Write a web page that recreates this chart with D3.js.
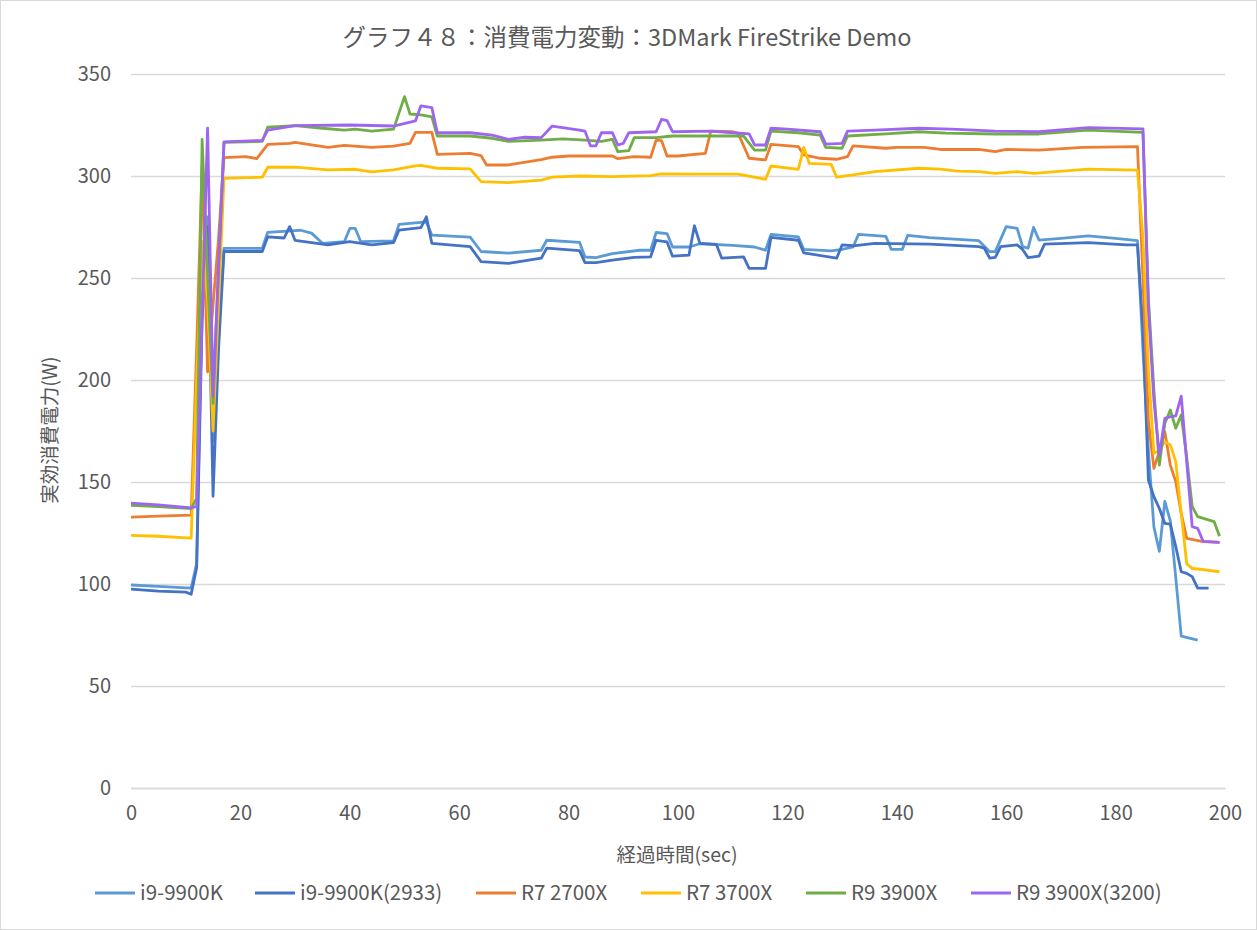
<!DOCTYPE html>
<html>
<head>
<meta charset="utf-8">
<script src="https://cdn.jsdelivr.net/npm/d3@7"></script>
<style>
body{margin:0;background:#fff;}
text{font-family:"Noto Sans CJK JP","Noto Sans",sans-serif;fill:#595959;}
</style>
</head>
<body>
<div id="chart"></div>
<script>
// 凡例の順番
const seriesNames=["i9-9900K","i9-9900K(2933)","R7 2700X","R7 3700X","R9 3900X","R9 3900X(3200)"];
const seriesColors=["#5b9bd5","#4472c4","#ed7d31","#ffc000","#70ad47","#9e66f0"];
const yTicks=[0,50,100,150,200,250,300,350];
const xTicks=[0,20,40,60,80,100,120,140,160,180,200];

// [経過時間(sec), 実効消費電力(W)]
const i9_9900K=[[0,99.5],[5,98.8],[11,98],[12,110],[13,240],[14,280],[15,170],[16,225],[17,264.5],[24,264.5],[25,272.4],[30,273.2],[31,273.4],[33,272],[35,267],[39,267.8],[40,274.3],[41,274.3],[42,267.8],[48,268.2],[49,276.3],[53,277.3],[54,277.5],[55,271],[62,270],[64,263],[69,262.2],[75,263.6],[76,268.5],[82,267.5],[83,260.3],[85,260],[88,262],[93,263.6],[95,263.6],[96,272.3],[98,271.8],[99,265.2],[102,265.2],[104,266.8],[110,266],[114,265.2],[116,263.6],[117,271.4],[122,270.2],[123,264],[128,263.3],[130,264],[132,265.2],[133,271.4],[138,270.4],[139,264],[141,264],[142,270.9],[146,269.8],[155,268.3],[157,262.9],[158,262.9],[160,275.2],[162,274.3],[163,265.4],[164,264.6],[165,274.8],[166,268.6],[170,269.4],[175,270.6],[180,269.4],[184,268.3],[185,215],[186,165],[187,128],[188,116],[189,140.5],[190,131],[191,103],[192,74.5],[195,72.5]];
const i9_9900K_2933=[[0,97.5],[5,96.5],[10,96],[11,95],[12,108],[13,230],[14,275],[15,143],[16,215],[17,263],[24,263],[25,270.2],[28,269.6],[29,275.2],[30,268.4],[36,266.2],[40,267.8],[44,266.2],[48,267.3],[49,273.5],[53,274.7],[54,280],[55,267],[62,265.4],[64,258],[69,257.2],[75,259.7],[76,264.6],[82,263.4],[83,257.5],[85,257.5],[88,258.8],[92,260.1],[95,260.4],[96,268.5],[98,267.7],[99,260.7],[102,261.2],[103,275.6],[104,267],[107,266.5],[108,259.7],[112,260.4],[113,254.7],[116,254.7],[117,269.9],[122,268.5],[123,262.3],[129,259.7],[130,266.2],[132,265.8],[136,267],[146,266.6],[155,265.4],[156,264.6],[157,259.7],[158,260.1],[159,265.4],[162,266.2],[163,264],[164,260],[166,260.7],[167,266.6],[175,267.3],[182,266.2],[184,266.2],[185,225],[186,151],[187,142.8],[188,137],[189,129.7],[190,129.4],[191,118.3],[192,106],[193,105.2],[194,103.6],[195,98],[197,98]];
const r7_2700X=[[0,132.8],[5,133.3],[11,133.8],[12,215],[13,305],[14,204],[15,237],[16,269],[17,309],[21,309.5],[23,308.5],[25,315.5],[29,316],[30,316.5],[36,314],[39,315],[44,314],[48,314.6],[51,316],[52,321.4],[55,321.4],[56,310.6],[62,311.1],[64,310],[65,305.4],[69,305.4],[75,308],[77,309.2],[80,309.8],[88,309.8],[89,308.5],[92,309.5],[95,309.2],[96,317.6],[97,317.3],[98,309.8],[100,309.8],[105,311.1],[106,322],[110,321.7],[111,320.9],[113,308.7],[116,307.9],[117,315.5],[122,314.4],[123,310.3],[126,308.7],[129,308.2],[131,309.5],[132,314.8],[138,313.6],[140,314],[145,314],[148,313],[155,313],[158,311.9],[160,313],[166,312.7],[174,314],[184,314.4],[185,250],[186,180],[187,156.7],[188,165],[189,174.7],[190,158.3],[191,150.2],[192,134.6],[193,122.4],[196,120.8],[199,120.4]];
const r7_3700X=[[0,123.8],[5,123.4],[11,122.5],[12,200],[13,268],[14,240],[15,175],[16,237],[17,298.8],[24,299.4],[25,304.3],[30,304.3],[36,303],[41,303.3],[44,302],[48,303],[52,305],[53,305.2],[56,303.8],[62,303.5],[64,297.2],[69,296.8],[75,298],[77,299.4],[82,300],[88,299.7],[95,300.2],[97,301],[104,300.9],[111,300.9],[116,298.4],[117,304.9],[122,303.3],[123,314],[124,306.2],[128,305.7],[129,299.4],[132,300.5],[136,302.1],[144,303.8],[148,303.4],[151,302.4],[155,302.1],[158,301.3],[162,302.1],[165,301.3],[175,303.4],[184,302.9],[185,270],[186,205],[187,164],[188,165.5],[189,169.8],[190,168.2],[191,160],[192,134.6],[193,110],[194,107.6],[196,107.1],[199,106]];
const r9_3900X=[[0,138.5],[5,138],[11,137],[12,142],[13,318],[14,252],[15,188.6],[16,255],[17,316.5],[24,317],[25,324],[30,324.7],[35,323.4],[39,322.5],[41,323],[44,322],[48,323],[50,338.9],[51,330.4],[53,330],[55,329],[56,319.6],[62,319.6],[66,318.5],[69,317],[75,317.6],[79,318.2],[83,317.6],[86,317],[88,318],[89,311.9],[91,312.4],[92,318.8],[96,318.8],[99,319.6],[112,319.6],[114,312.7],[116,312.7],[117,322],[122,321.2],[126,320],[127,314],[130,313.6],[131,319.6],[138,320.6],[144,321.7],[149,321],[158,320.6],[166,320.6],[175,322.5],[185,321.4],[186,240],[187,195],[188,158.3],[189,178.7],[190,185.3],[191,176.3],[192,182.9],[193,162],[194,138],[195,133],[198,130.6],[199,123.4]];
const r9_3900X_3200=[[0,139.6],[5,138.8],[11,137.3],[12,138],[13,230],[14,323.5],[15,192],[16,255],[17,316.7],[24,317.5],[25,322.5],[30,324.7],[40,325],[48,324.5],[52,327],[53,334.4],[55,333.5],[56,321.2],[62,321.2],[66,320],[69,318],[72,319],[75,318.8],[77,324.5],[82,322.5],[83,322],[84,314.8],[85,314.8],[86,321.2],[88,321.2],[89,315.2],[90,316],[91,321.2],[96,321.7],[97,327.8],[98,327.1],[99,321.7],[106,322],[110,321.2],[113,320.6],[114,315.2],[116,315.2],[117,323.4],[120,323],[126,321.7],[127,315.6],[130,316],[131,322],[136,322.5],[144,323.4],[150,323],[158,322],[166,321.7],[175,323.7],[185,323.1],[186,235],[187,190],[188,163],[189,181.2],[190,182],[191,182.4],[192,192.1],[193,160],[194,128.1],[195,127.3],[196,120.9],[199,120.4]];

const allSeries=[i9_9900K,i9_9900K_2933,r7_2700X,r7_3700X,r9_3900X,r9_3900X_3200];

const width=1257,height=930;
const margin={left:131,right:32,top:74,bottom:142};

const svg=d3.select("#chart").append("svg")
    .attr("width",width)
    .attr("height",height);

svg.append("rect")
    .attr("x",0.5).attr("y",0.5)
    .attr("width",width-1).attr("height",height-1)
    .attr("fill","#fff")
    .attr("stroke","#d9d9d9");

const x=d3.scaleLinear().domain([0,200]).range([margin.left,width-margin.right]);
const y=d3.scaleLinear().domain([0,350]).range([height-margin.bottom,margin.top]);

// grid + y axis
const yAxis=svg.append("g")
    .attr("transform",`translate(${margin.left},0)`)
    .call(d3.axisLeft(y).tickValues(yTicks).tickSize(-(x(200)-x(0))).tickPadding(20));
yAxis.select(".domain").remove();
yAxis.selectAll("line").attr("stroke","#d9d9d9").attr("stroke-width",1.3);
yAxis.selectAll("text").attr("font-size",20);

const xAxis=svg.append("g")
    .attr("transform",`translate(0,${y(0)})`)
    .call(d3.axisBottom(x).tickValues(xTicks).tickSize(0).tickPadding(18));
xAxis.select(".domain").attr("stroke","#d9d9d9").attr("stroke-width",1.3);
xAxis.selectAll("text").attr("font-size",20);

const line=d3.line().x(d=>x(d[0])).y(d=>y(d[1]));

svg.append("g")
    .selectAll("path")
    .data(allSeries)
    .join("path")
    .attr("fill","none")
    .attr("stroke",(d,i)=>seriesColors[i])
    .attr("stroke-width",2.8)
    .attr("stroke-linejoin","round")
    .attr("d",line);

svg.append("text")
    .attr("x",627).attr("y",46)
    .attr("text-anchor","middle")
    .attr("font-size",23.5)
    .text("グラフ４８：消費電力変動：3DMark FireStrike Demo");

svg.append("text")
    .attr("transform","translate(57,430) rotate(-90)")
    .attr("text-anchor","middle")
    .attr("font-size",19.5)
    .text("実効消費電力(W)");

svg.append("text")
    .attr("x",677).attr("y",862)
    .attr("text-anchor","middle")
    .attr("font-size",19.5)
    .text("経過時間(sec)");

// 凡例
const legendX=[95,255,476,641,806,971];
const legend=svg.append("g")
    .selectAll("g")
    .data(seriesNames)
    .join("g")
    .attr("transform",(d,i)=>`translate(${legendX[i]},893)`);
legend.append("line")
    .attr("x1",0).attr("x2",40)
    .attr("stroke",(d,i)=>seriesColors[i])
    .attr("stroke-width",3);
legend.append("text")
    .attr("x",45).attr("dy","0.35em")
    .attr("font-size",20.5)
    .text(d=>d);
</script>
</body>
</html>
